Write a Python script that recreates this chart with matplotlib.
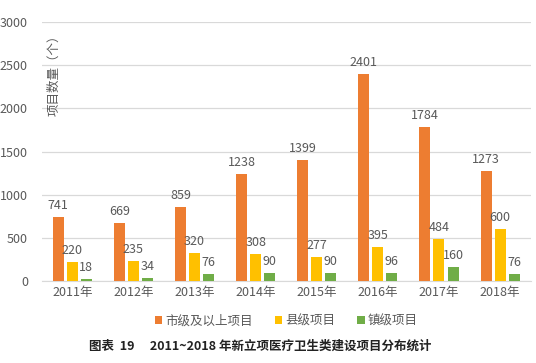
import numpy as np
import matplotlib.pyplot as plt

plt.rcParams['font.family'] = ['Noto Sans CJK SC', 'DejaVu Sans']

# data
tahun = ['2011年', '2012年', '2013年', '2014年', '2015年', '2016年', '2017年', '2018年']
shiji = [741, 669, 859, 1238, 1399, 2401, 1784, 1273]
xianji = [220, 235, 320, 308, 277, 395, 484, 600]
zhenji = [18, 34, 76, 90, 90, 96, 160, 76]
nama_seri = ['市级及以上项目', '县级项目', '镇级项目']
warna = ['#ED7D31', '#FFC000', '#70AD47']

fig = plt.figure(figsize=(5.36, 3.63), dpi=100)
ax = fig.add_axes([0.078, 0.226, 0.912, 0.713])

x = np.arange(len(tahun))
lebar = 0.18
geser = 0.23
teks = '#595959'

for i, (nilai, w, nm) in enumerate(zip([shiji, xianji, zhenji], warna, nama_seri)):
    pos = x + (i - 1) * geser
    ax.bar(pos, nilai, width=lebar, color=w, label=nm, zorder=3)
    for p, v in zip(pos, nilai):
        ax.text(p, v + 60, str(v), ha='center', va='bottom', fontsize=9, color=teks)

ax.set_xlim(-0.5, len(tahun) - 0.5)
ax.set_ylim(0, 3000)
ax.set_yticks(np.arange(0, 3001, 500))
ax.set_xticks(x)
ax.set_xticklabels(tahun)
ax.tick_params(axis='both', length=0, labelsize=9, colors=teks)
ax.tick_params(axis='y', pad=10)
ax.grid(axis='y', color='#D9D9D9', linewidth=0.9, zorder=0)
for s in ['top', 'right', 'left']:
    ax.spines[s].set_visible(False)
ax.spines['bottom'].set_color('#D9D9D9')

# y label sits inside the plot area
ax.text(0.012, 0.975, '项目数量（个）', transform=ax.transAxes, rotation=90,
        ha='left', va='top', fontsize=9, color=teks)

ax.legend(loc='upper center', bbox_to_anchor=(0.5, -0.085), ncol=3, frameon=False,
          fontsize=9, handlelength=0.6, handleheight=0.6, handletextpad=0.2,
          columnspacing=1.8, labelcolor=teks)

fig.text(0.485, 0.045, '图表  19　 2011~2018 年新立项医疗卫生类建设项目分布统计',
         ha='center', va='center', fontsize=9, fontweight='bold', color='#222222')

fig.savefig('out.png', dpi=100)
